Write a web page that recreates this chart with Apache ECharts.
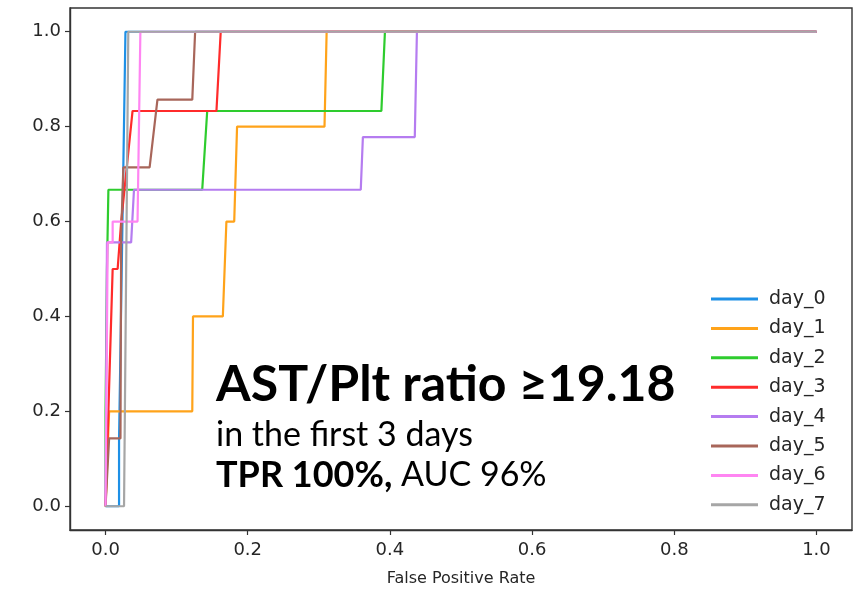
<!DOCTYPE html>
<html>
<head>
<meta charset="utf-8">
<script src="https://cdn.jsdelivr.net/npm/echarts@6/dist/echarts.min.js"></script>
<style>
  html, body { margin: 0; padding: 0; background: #fff; }
  #chart { width: 864px; height: 592px; }
</style>
</head>
<body>
<div id="chart"></div>
<script>
// ROC points (false positive rate, true positive rate)
const dayNames = ['day_0', 'day_1', 'day_2', 'day_3', 'day_4', 'day_5', 'day_6', 'day_7'];
const day0 = [[0, 0], [0.019, 0], [0.019, 0.14], [0.028, 1], [1, 1]];
const day1 = [[0, 0], [0.005, 0.2], [0.122, 0.2], [0.123, 0.4], [0.165, 0.4], [0.170, 0.6], [0.181, 0.6], [0.185, 0.8], [0.308, 0.8], [0.311, 1], [1, 1]];
const day2 = [[0, 0], [0, 0.2], [0.002, 0.5], [0.004, 0.667], [0.136, 0.667], [0.143, 0.833], [0.388, 0.833], [0.393, 1], [1, 1]];
const day3 = [[0, 0], [0.01, 0.5], [0.017, 0.5], [0.022, 0.6], [0.038, 0.833], [0.156, 0.833], [0.162, 1], [1, 1]];
const day4 = [[0, 0], [0.002, 0.556], [0.036, 0.556], [0.040, 0.667], [0.359, 0.667], [0.362, 0.778], [0.435, 0.778], [0.438, 1], [1, 1]];
const day5 = [[0, 0], [0.005, 0.143], [0.021, 0.143], [0.022, 0.571], [0.025, 0.714], [0.062, 0.714], [0.073, 0.857], [0.122, 0.857], [0.126, 1], [1, 1]];
const day6 = [[0, 0], [0.003, 0.556], [0.010, 0.556], [0.010, 0.6], [0.045, 0.6], [0.049, 1], [1, 1]];
const day7 = [[0, 0], [0.026, 0], [0.032, 1], [1, 1]];
const dayData = [day0, day1, day2, day3, day4, day5, day6, day7];
const dayColors = ['#1e90e6', '#ffa31a', '#2ecc2e', '#ff2b2b', '#b57cf0', '#a8665a', '#ff85f2', '#a6a6a6'];

const tickValues = [0, 0.2, 0.4, 0.6, 0.8, 1.0];
const xTitle = 'False Positive Rate';
const noteLine1 = 'AST/Plt ratio \u226519.18';
const noteLine2 = 'in the first 3 days';
const noteLine3a = 'TPR 100%,';
const noteLine3b = ' AUC 96%';

const chart = echarts.init(document.getElementById('chart'));

const axisFont = { fontFamily: 'DejaVu Sans', fontSize: 18, color: '#262626' };

const makeAxis = (extra) => Object.assign({
  type: 'value',
  min: -0.05,
  max: 1.05,
  splitLine: { show: false },
  axisLine: { show: true, onZero: false, lineStyle: { color: '#333', width: 1.4 } },
  axisTick: { show: true, customValues: tickValues, length: 5, lineStyle: { color: '#333', width: 1.2 } }
}, extra);

const option = {
  backgroundColor: '#fff',
  animation: false,
  grid: { left: 70, top: 8, right: 12, bottom: 60, show: true, borderColor: '#333', borderWidth: 1.4 },
  xAxis: makeAxis({
    name: xTitle,
    nameLocation: 'middle',
    nameGap: 41,
    nameTextStyle: { fontFamily: 'DejaVu Sans', fontSize: 16, color: '#262626' },
    axisLabel: Object.assign({ customValues: tickValues, formatter: v => v.toFixed(1), margin: 11 }, axisFont)
  }),
  yAxis: makeAxis({
    axisLabel: Object.assign({ customValues: tickValues, formatter: v => v.toFixed(1), margin: 9 }, axisFont)
  }),
  legend: {
    orient: 'vertical',
    left: 706,
    top: 284,
    itemWidth: 47,
    itemHeight: 3,
    itemGap: 9.4,
    icon: 'rect',
    textStyle: { fontFamily: 'DejaVu Sans', fontSize: 19, color: '#262626', lineHeight: 20, padding: [0, 0, 0, 6] },
    data: dayNames
  },
  series: dayNames.map((name, i) => ({
    name: name,
    type: 'line',
    data: dayData[i],
    showSymbol: false,
    symbol: 'none',
    color: dayColors[i],
    lineStyle: { width: 2.2, color: dayColors[i] }
  })),
  graphic: [
    {
      type: 'text', left: 216, top: 360, z: 100,
      style: { text: noteLine1, font: 'bold 50px Lato', fill: '#000' }
    },
    {
      type: 'text', left: 216, top: 418, z: 100,
      style: { text: noteLine2, font: '34px Lato', fill: '#000' }
    },
    {
      type: 'text', left: 216, top: 457, z: 100,
      style: {
        text: '{b|' + noteLine3a + '}{r|' + noteLine3b + '}',
        rich: {
          b: { fontFamily: 'Lato', fontWeight: 'bold', fontSize: 36, fill: '#000', color: '#000' },
          r: { fontFamily: 'Lato', fontSize: 34, fill: '#000', color: '#000' }
        }
      }
    }
  ]
};

chart.setOption(option);
</script>
</body>
</html>
